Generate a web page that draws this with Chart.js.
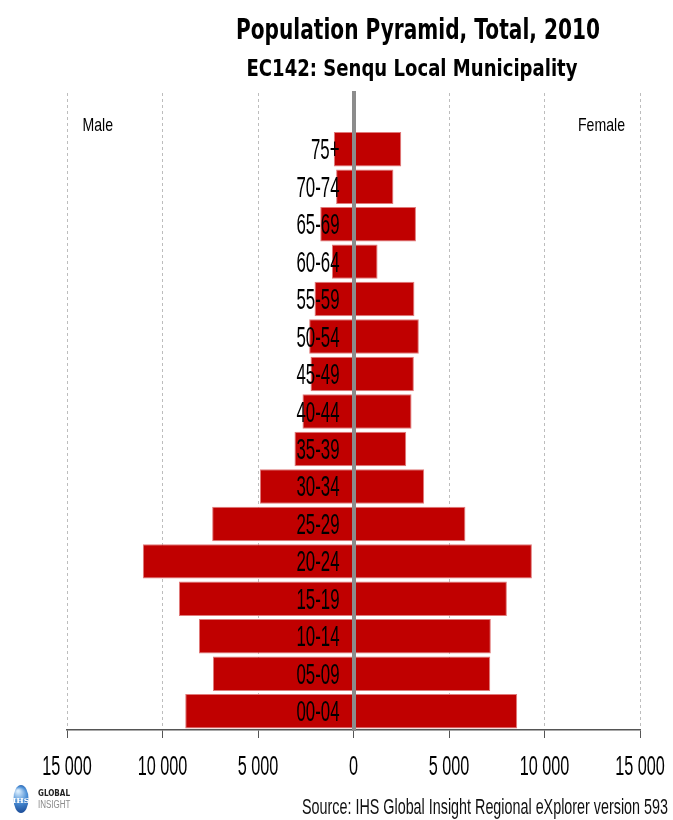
<!DOCTYPE html>
<html>
<head>
<meta charset="utf-8">
<title>Population Pyramid, Total, 2010</title>
<script src="https://cdn.jsdelivr.net/npm/chart.js@4/dist/chart.umd.min.js"></script>
<style>
  html, body { margin: 0; padding: 0; background: #ffffff; }
  #wrap { width: 673px; height: 820px; }
</style>
</head>
<body>
<div id="wrap"><canvas id="pyramid" width="673" height="820"></canvas></div>
<script>
// Age groups, oldest at the top
const ageGroups = ['75+', '70-74', '65-69', '60-64', '55-59', '50-54', '45-49', '40-44',
                   '35-39', '30-34', '25-29', '20-24', '15-19', '10-14', '05-09', '00-04'];

// Population counts per age group (same order as ageGroups)
const male   = [1030, 910, 1740, 1130, 2040, 2320, 2250, 2670,
                3090, 4900, 7400, 11030, 9140, 8090, 7360, 8810];
const female = [2500, 2090, 3270, 1260, 3190, 3420, 3160, 3040,
                2760, 3700, 5860, 9340, 8030, 7190, 7160, 8570];

// Horizontal axis ticks
const axisTicks = [-15000, -10000, -5000, 0, 5000, 10000, 15000];

const titleText = 'Population Pyramid, Total, 2010';
const subtitleText = 'EC142: Senqu Local Municipality';
const leftLabel = 'Male';
const rightLabel = 'Female';
const sourceText = 'Source: IHS Global Insight Regional eXplorer version 593';

const SANS = '"Liberation Sans", Arial, sans-serif';
const HEAVY = '"DejaVu Sans", "Liberation Sans", sans-serif';
const SQUEEZE = 0.58;   // horizontal compression of the axis lettering

// A blank row on top leaves room for the Male / Female headings
const rowLabels = [''].concat(ageGroups);
const maleRows = [null].concat(male.map(v => -v));
const femaleRows = [null].concat(female);

function spaced(n) {
  return String(Math.abs(n)).replace(/\B(?=(\d{3})+(?!\d))/g, ' ');
}

// Draws text compressed horizontally by factor sx
function squeezedText(ctx, text, font, x, y, sx, align, color) {
  ctx.save();
  ctx.font = font;
  ctx.fillStyle = color;
  ctx.textBaseline = 'alphabetic';
  const w = ctx.measureText(text).width * sx;
  let left = x;
  if (align === 'center') left = x - w / 2;
  else if (align === 'right') left = x - w;
  ctx.translate(left, y);
  ctx.scale(sx, 1);
  ctx.textAlign = 'left';
  ctx.fillText(text, 0, 0);
  ctx.restore();
}

// Draws text compressed so that it spans the given width
function fitText(ctx, text, font, x, y, width, align, color) {
  ctx.save();
  ctx.font = font;
  const sx = width / ctx.measureText(text).width;
  ctx.restore();
  squeezedText(ctx, text, font, x, y, sx, align, color);
}

const lettering = {
  id: 'lettering',
  afterDraw(chart) {
    const ctx = chart.ctx;
    const xs = chart.scales.x;
    const ys = chart.scales.y;

    // age group labels sit over the bars, just left of the zero line
    const zeroX = xs.getPixelForValue(0);
    ys.ticks.forEach((t, i) => {
      const label = ys.getLabelForValue(t.value);
      if (!label) return;
      squeezedText(ctx, label, '29px ' + SANS, zeroX - 14, ys.getPixelForTick(i) + 10,
                   SQUEEZE, 'right', '#000');
    });

    // horizontal axis values
    xs.ticks.forEach((t) => {
      squeezedText(ctx, spaced(t.value), '28px ' + SANS, xs.getPixelForValue(t.value),
                   xs.bottom + 37, SQUEEZE, 'center', '#000');
    });

    fitText(ctx, titleText, 'bold 29px ' + HEAVY, 418, 38.5, 364, 'center', '#000');
    fitText(ctx, subtitleText, 'bold 23px ' + HEAVY, 412, 75.5, 331, 'center', '#000');
    fitText(ctx, leftLabel, '18.6px ' + SANS, 82.5, 131, 30.5, 'left', '#000');
    fitText(ctx, rightLabel, '18.6px ' + SANS, 625, 131, 47, 'right', '#000');
    fitText(ctx, sourceText, '22px ' + SANS, 668, 814, 366, 'right', '#111');

    // IHS Global Insight logo
    ctx.save();
    const cx = 21, cy = 799;
    const g = ctx.createRadialGradient(cx - 3, cy - 8, 1, cx, cy, 16);
    g.addColorStop(0, '#d8ecfd');
    g.addColorStop(0.45, '#4b8fd6');
    g.addColorStop(1, '#123f8c');
    ctx.fillStyle = g;
    ctx.beginPath();
    ctx.ellipse(cx, cy, 7.5, 14, 0, 0, Math.PI * 2);
    ctx.fill();
    ctx.fillStyle = '#ffffff';
    ctx.font = 'bold 8px "DejaVu Serif", serif';
    ctx.textAlign = 'center';
    ctx.textBaseline = 'middle';
    ctx.fillText('IHS', cx, cy + 2);
    ctx.restore();
    squeezedText(ctx, 'GLOBAL', 'bold 9px ' + HEAVY, 38, 796, 0.8, 'left', '#222');
    squeezedText(ctx, 'INSIGHT', '10px ' + SANS, 38, 808, 0.8, 'left', '#8a8a8a');
  }
};

new Chart(document.getElementById('pyramid'), {
  type: 'bar',
  data: {
    labels: rowLabels,
    datasets: [
      {
        label: leftLabel,
        data: maleRows,
        backgroundColor: '#c00000',
        borderColor: '#e07a7a',
        borderWidth: 1,
        borderSkipped: false
      },
      {
        label: rightLabel,
        data: femaleRows,
        backgroundColor: '#c00000',
        borderColor: '#e07a7a',
        borderWidth: 1,
        borderSkipped: false
      }
    ]
  },
  options: {
    indexAxis: 'y',
    responsive: false,
    animation: false,
    layout: { padding: { top: 93, left: 67, right: 33, bottom: 82 } },
    datasets: { bar: { categoryPercentage: 1, barPercentage: 0.92 } },
    plugins: {
      legend: { display: false },
      tooltip: { enabled: false },
      title: { display: false }
    },
    scales: {
      x: {
        type: 'linear',
        stacked: true,
        min: axisTicks[0],
        max: axisTicks[axisTicks.length - 1],
        afterBuildTicks(scale) { scale.ticks = axisTicks.map(v => ({ value: v })); },
        grid: {
          color: '#bdbdbd',
          lineWidth: 1,
          tickLength: 8,
          tickColor: '#555555',
          tickWidth: 1
        },
        border: { display: true, color: '#555555', width: 1.5, dash: [3, 3] },
        ticks: { display: false }
      },
      y: {
        type: 'category',
        stacked: true,
        position: { x: 0 },
        grid: { display: false, drawTicks: false },
        border: { display: true, color: '#8c8c8c', width: 4, z: 1 },
        ticks: { display: false }
      }
    }
  },
  plugins: [lettering]
});
</script>
</body>
</html>
